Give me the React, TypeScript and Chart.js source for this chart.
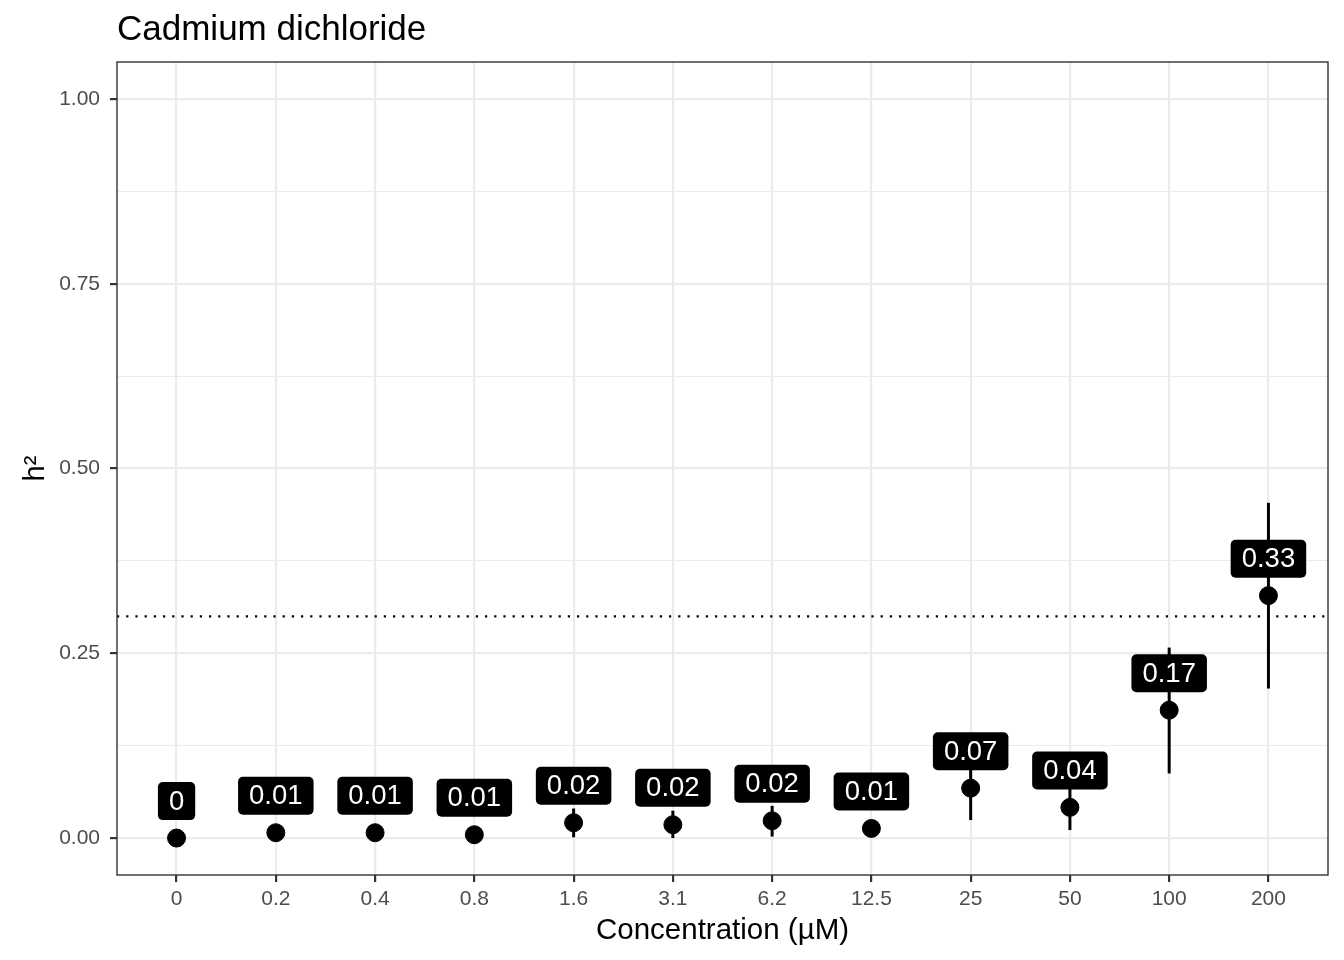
import React, { useEffect, useRef } from "react";
import { Chart, registerables } from "chart.js";

Chart.register(...registerables);

const TITLE = "Cadmium dichloride";
const X_TITLE = "Concentration (µM)";
const Y_TITLE = "h²";
const categories = ["0", "0.2", "0.4", "0.8", "1.6", "3.1", "6.2", "12.5", "25", "50", "100", "200"];
const h2Values = [0.0, 0.0072, 0.0072, 0.0045, 0.0207, 0.018, 0.0234, 0.013, 0.0675, 0.0415, 0.173, 0.328];
const lowerValues = [0.0, 0.0, 0.0, 0.0, 0.001, 0.0, 0.002, 0.004, 0.0243, 0.0108, 0.0874, 0.2023];
const upperValues = [0.0, 0.014, 0.014, 0.01, 0.04, 0.037, 0.0436, 0.022, 0.112, 0.072, 0.2577, 0.4536];
const labelTexts = ["0", "0.01", "0.01", "0.01", "0.02", "0.02", "0.02", "0.01", "0.07", "0.04", "0.17", "0.33"];
const labelNudge = 0.05;
const thresholdValue = 0.3;
const majorTicks = [0, 0.25, 0.5, 0.75, 1.0];

const FONT = "'Liberation Sans', Arial, Helvetica, sans-serif";

const overlayPlugin = {
  id: "overlay",
  beforeDatasetsDraw(chart: any) {
    const { ctx, chartArea, scales } = chart;
    const x = scales.x;
    const y = scales.y;
    ctx.save();
    ctx.strokeStyle = "#000";
    ctx.lineWidth = 2.2;
    ctx.setLineDash([2.2, 7]);
    const ty = y.getPixelForValue(thresholdValue);
    ctx.beginPath();
    ctx.moveTo(chartArea.left, ty);
    ctx.lineTo(chartArea.right, ty);
    ctx.stroke();
    ctx.setLineDash([]);
    ctx.lineWidth = 3;
    for (let i = 0; i < categories.length; i++) {
      const px = x.getPixelForValue(i);
      ctx.beginPath();
      ctx.moveTo(px, y.getPixelForValue(lowerValues[i]));
      ctx.lineTo(px, y.getPixelForValue(upperValues[i]));
      ctx.stroke();
    }
    ctx.restore();
  },
  afterDatasetsDraw(chart: any) {
    const { ctx, scales } = chart;
    const x = scales.x;
    const y = scales.y;
    ctx.save();
    ctx.font = `27.5px ${FONT}`;
    ctx.textAlign = "center";
    ctx.textBaseline = "middle";
    for (let i = 0; i < categories.length; i++) {
      const px = x.getPixelForValue(i);
      const py = y.getPixelForValue(h2Values[i] + labelNudge);
      const w = ctx.measureText(labelTexts[i]).width + 22;
      const h = 38;
      ctx.fillStyle = "#000";
      ctx.beginPath();
      (ctx as any).roundRect(px - w / 2, py - h / 2, w, h, 5);
      ctx.fill();
      ctx.fillStyle = "#fff";
      ctx.fillText(labelTexts[i], px, py + 1);
    }
    ctx.restore();
  },
  afterDraw(chart: any) {
    const { ctx, chartArea } = chart;
    ctx.save();
    ctx.strokeStyle = "#333333";
    ctx.lineWidth = 1.4;
    ctx.strokeRect(chartArea.left, chartArea.top, chartArea.right - chartArea.left, chartArea.bottom - chartArea.top);
    ctx.fillStyle = "#000";
    ctx.font = `35px ${FONT}`;
    ctx.textAlign = "left";
    ctx.textBaseline = "alphabetic";
    ctx.fillText(TITLE, chartArea.left, 40);
    ctx.font = `29.5px ${FONT}`;
    ctx.textAlign = "center";
    ctx.fillText(X_TITLE, (chartArea.left + chartArea.right) / 2, 939);
    ctx.font = `29px ${FONT}`;
    ctx.translate(44, (chartArea.top + chartArea.bottom) / 2);
    ctx.rotate(-Math.PI / 2);
    ctx.fillText(Y_TITLE, 0, 0);
    ctx.restore();
  },
};

export default function App() {
  const ref = useRef<HTMLCanvasElement>(null);
  useEffect(() => {
    document.body.style.margin = "0";
    const minorSet = (v: number) => !majorTicks.some((m) => Math.abs(m - v) < 1e-6);
    const chart = new Chart(ref.current!, {
      type: "scatter",
      data: {
        datasets: [
          {
            data: h2Values.map((v, i) => ({ x: i, y: v })),
            backgroundColor: "#000",
            borderColor: "#000",
            pointRadius: 9,
            pointHoverRadius: 9,
          },
        ],
      },
      options: {
        animation: false,
        responsive: false,
        events: [],
        layout: { padding: { left: 0, right: 16, top: 62, bottom: 0 } },
        plugins: { legend: { display: false }, tooltip: { enabled: false }, title: { display: false } },
        scales: {
          x: {
            type: "linear",
            min: -0.6,
            max: categories.length - 1 + 0.6,
            afterBuildTicks: (s: any) => {
              s.ticks = categories.map((_, i) => ({ value: i }));
            },
            afterFit: (s: any) => {
              s.height = 85;
            },
            ticks: {
              callback: (v: any) => categories[Math.round(Number(v))] ?? "",
              color: "#4D4D4D",
              font: { family: FONT, size: 21 },
              padding: 5,
              maxRotation: 0,
              autoSkip: false,
            },
            grid: {
              color: "#EBEBEB",
              lineWidth: 2.2,
              tickColor: "#333333",
              tickLength: 7,
              drawTicks: true,
            },
            border: { display: false },
          },
          y: {
            type: "linear",
            min: -0.05,
            max: 1.05,
            afterBuildTicks: (s: any) => {
              const t: any[] = [];
              for (let k = 0; k <= 8; k++) t.push({ value: k * 0.125 });
              s.ticks = t;
            },
            afterFit: (s: any) => {
              s.width = 117;
            },
            ticks: {
              callback: (v: any) => (minorSet(Number(v)) ? "" : Number(v).toFixed(2)),
              color: "#4D4D4D",
              font: { family: FONT, size: 21 },
              padding: 10,
              autoSkip: false,
            },
            grid: {
              color: "#EBEBEB",
              lineWidth: (c: any) => (minorSet(c.tick?.value ?? 0) ? 1.1 : 2.2),
              tickColor: (c: any) => (minorSet(c.tick?.value ?? 0) ? "rgba(0,0,0,0)" : "#333333"),
              tickLength: 7,
            },
            border: { display: false },
          },
        },
      },
      plugins: [overlayPlugin],
    } as any);
    return () => chart.destroy();
  }, []);
  return (
    <div style={{ position: "absolute", left: 0, top: 0, width: 1344, height: 960, background: "#fff" }}>
      <canvas ref={ref} width={1344} height={960} style={{ width: 1344, height: 960 }} />
    </div>
  );
}
